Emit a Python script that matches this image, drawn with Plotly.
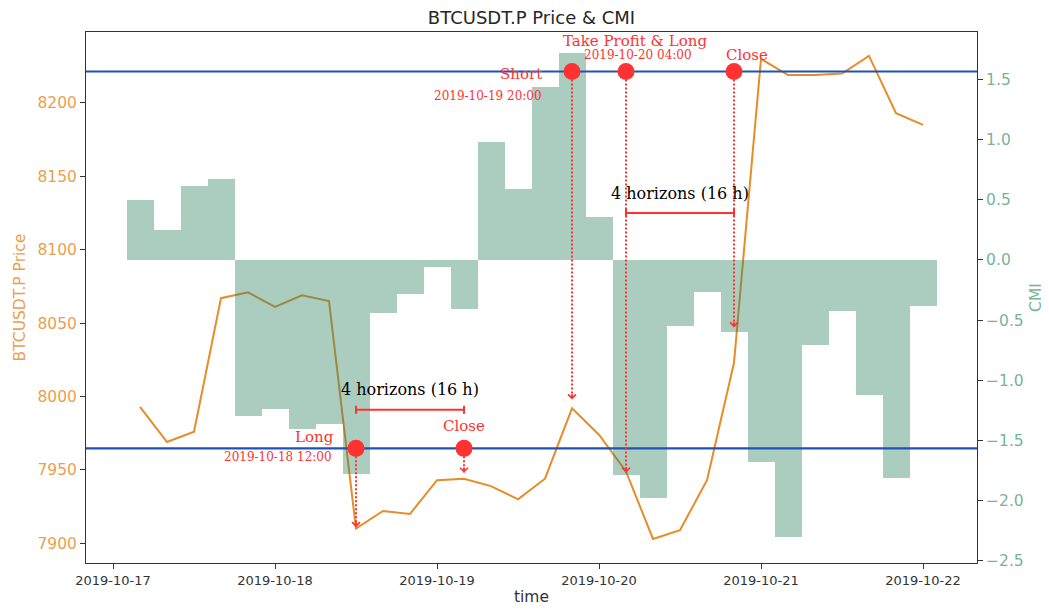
import pandas as pd
import plotly.graph_objects as go

# 4-hourly candles
TIMES = pd.date_range("2019-10-17 04:00", periods=30, freq="4h")
PRICE = [7993, 7969, 7976, 8067, 8071, 8061, 8069, 8065, 7910, 7922,
         7920, 7943, 7944, 7939, 7930, 7944, 7992, 7974, 7949, 7903,
         7909, 7943, 8023, 8230, 8219, 8219, 8220, 8232, 8193, 8185]
CMI = [0.50, 0.25, 0.61, 0.67, -1.30, -1.24, -1.40, -1.36, -1.78, -0.44,
       -0.28, -0.06, -0.41, 0.98, 0.59, 1.44, 1.72, 0.36, -1.79, -1.98,
       -0.55, -0.27, -0.60, -1.68, -2.30, -0.71, -0.42, -1.12, -1.81, -0.38]

THRESHOLD = 1.565

# trade events
EVENT_TIMES = ["2019-10-18 12:00", "2019-10-19 04:00", "2019-10-19 20:00",
               "2019-10-20 04:00", "2019-10-20 20:00"]
EVENT_SIDE = [-1, -1, 1, 1, 1]
EVENT_LABELS = ["Long", "Close", "Short", "Take Profit & Long", "Close"]
EVENT_DATES = ["2019-10-18 12:00", "", "2019-10-19 20:00", "2019-10-20 04:00", ""]
ARROW_TARGETS = [7911, 7948, 7998, 7948, 8047]

# holding horizons
HORIZON_START = ["2019-10-18 12:00", "2019-10-20 04:00"]
HORIZON_END = ["2019-10-19 04:00", "2019-10-20 20:00"]
HORIZON_LEVEL = [7991, 8125]
HORIZON_TEXT = "4 horizons (16 h)"

X_TICKS = ["2019-10-17", "2019-10-18", "2019-10-19", "2019-10-20", "2019-10-21", "2019-10-22"]
X_RANGE = ["2019-10-16 20:00", "2019-10-22 08:00"]
PRICE_RANGE = [7886.6, 8248.3]
CMI_RANGE = [-2.517, 1.893]

ORANGE = "rgb(230,140,40)"
ORANGE_TXT = "rgb(235,160,80)"
GREEN_TXT = "rgb(120,180,150)"
BLUE = "#1f52b4"
RED = "rgb(255,50,50)"
SERIF = "DejaVu Serif"


def cmi_to_price(v):
    return PRICE_RANGE[0] + (v - CMI_RANGE[0]) / (CMI_RANGE[1] - CMI_RANGE[0]) * (PRICE_RANGE[1] - PRICE_RANGE[0])


fig = go.Figure()

fig.add_trace(go.Scatter(x=TIMES, y=PRICE, mode="lines", line=dict(color=ORANGE, width=2),
                         yaxis="y", showlegend=False))

fig.add_trace(go.Bar(x=TIMES, y=CMI, width=4 * 3600 * 1000, yaxis="y2",
                     marker=dict(color="rgba(46,130,95,0.4)", line=dict(width=0)),
                     showlegend=False))

for sign in (1, -1):
    fig.add_trace(go.Scatter(x=X_RANGE, y=[sign * THRESHOLD] * 2, mode="lines", yaxis="y2",
                             line=dict(color=BLUE, width=2.2), showlegend=False))

fig.add_trace(go.Scatter(x=EVENT_TIMES, y=[s * THRESHOLD for s in EVENT_SIDE], mode="markers",
                         yaxis="y2", marker=dict(color=RED, size=17), showlegend=False))

shapes = []
annotations = []

# event labels
label_pos = [(-20, 11, "right"), (0, 22, "center"), (-28, -3, "right"), (9, 30, "center"), (13, 16, "center")]
date_pos = [(-22, -9, "right"), None, (-28, -25, "right"), (12, 16, "center"), None]
for i, t in enumerate(EVENT_TIMES):
    y = EVENT_SIDE[i] * THRESHOLD
    dx, dy, anchor = label_pos[i]
    annotations.append(dict(x=t, y=y, xref="x", yref="y2", text=EVENT_LABELS[i], showarrow=False,
                            xanchor=anchor, yanchor="middle", xshift=dx, yshift=dy,
                            font=dict(family=SERIF, size=15, color=RED)))
    if EVENT_DATES[i]:
        dx, dy, anchor = date_pos[i]
        annotations.append(dict(x=t, y=y, xref="x", yref="y2", text=EVENT_DATES[i], showarrow=False,
                                xanchor=anchor, yanchor="middle", xshift=dx, yshift=dy,
                                font=dict(family=SERIF, size=12, color=RED)))
    # dotted arrow down to price
    shapes.append(dict(type="line", xref="x", yref="y", x0=t, x1=t,
                       y0=cmi_to_price(y), y1=ARROW_TARGETS[i], layer="above",
                       line=dict(color=RED, width=2, dash="2px,2px")))
    annotations.append(dict(x=t, y=ARROW_TARGETS[i], xref="x", yref="y", text="", showarrow=True,
                            ax=0, ay=-7, arrowhead=4, arrowsize=1, arrowwidth=1.5,
                            arrowcolor=RED, standoff=0))

# horizon brackets
for s, e, lvl in zip(HORIZON_START, HORIZON_END, HORIZON_LEVEL):
    shapes.append(dict(type="line", xref="x", yref="y", x0=s, x1=e, y0=lvl, y1=lvl,
                       layer="above", line=dict(color=RED, width=2)))
    for t in (s, e):
        shapes.append(dict(type="line", xref="x", yref="y", x0=t, x1=t, ysizemode="pixel",
                           yanchor=lvl, y0=-4, y1=4, layer="above", line=dict(color=RED, width=2)))
    mid = pd.Timestamp(s) + (pd.Timestamp(e) - pd.Timestamp(s)) / 2
    annotations.append(dict(x=mid, y=lvl, xref="x", yref="y", text=HORIZON_TEXT, showarrow=False,
                            yshift=20, font=dict(family=SERIF, size=16, color="black")))

# the page body adds an 8px margin, so the figure is a little smaller than the window
fig.update_layout(
    width=1041, height=604,
    margin=dict(l=78, r=72, t=24, b=49),
    paper_bgcolor="white", plot_bgcolor="white",
    font=dict(family="DejaVu Sans", color="#333"),
    title=dict(text="BTCUSDT.P Price & CMI", x=0.5, xref="paper", y=1 - 10 / 604, yref="container",
               xanchor="center", yanchor="middle", font=dict(size=18, color="#262626")),
    bargap=0,
    shapes=shapes,
    annotations=annotations,
    xaxis=dict(type="date", range=X_RANGE, tickvals=X_TICKS, ticktext=X_TICKS, automargin=False,
               showgrid=False, zeroline=False, showline=True, mirror=True, linecolor="#333",
               ticks="outside", ticklen=5, tickcolor="#333", tickfont=dict(size=13, color="#333"),
               title=dict(text="time", font=dict(size=15.5, color="#333"), standoff=4)),
    yaxis=dict(range=PRICE_RANGE, tickvals=[7900, 7950, 8000, 8050, 8100, 8150, 8200], automargin=False,
               showgrid=False, zeroline=False, showline=True, linecolor="#333",
               ticks="outside", ticklen=5, tickcolor="#333", tickfont=dict(size=15.5, color=ORANGE_TXT),
               title=dict(text="BTCUSDT.P Price", font=dict(size=15.5, color=ORANGE_TXT), standoff=8)),
    yaxis2=dict(range=CMI_RANGE, overlaying="y", side="right", dtick=0.5, tickformat=".1f", automargin=False,
                showgrid=False, zeroline=False, showline=True, linecolor="#333",
                ticks="outside", ticklen=5, tickcolor="#333", tickfont=dict(size=15.5, color=GREEN_TXT),
                title=dict(text="CMI", font=dict(size=15.5, color=GREEN_TXT), standoff=7)),
)

fig.write_html("out.html")
